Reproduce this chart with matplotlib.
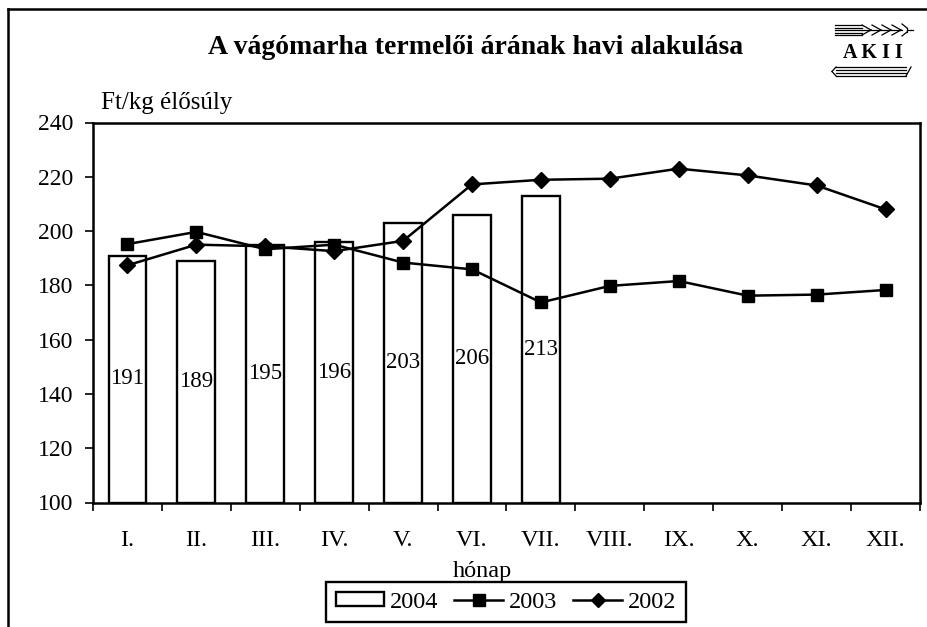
import matplotlib
matplotlib.use("Agg")
import matplotlib.pyplot as plt
import numpy as np
from matplotlib.lines import Line2D
from matplotlib.patches import Rectangle

plt.rcParams['font.family'] = ['Liberation Serif', 'DejaVu Serif']

months = ["I.", "II.", "III.", "IV.", "V.", "VI.", "VII.", "VIII.", "IX.", "X.", "XI.", "XII."]
vals_2004 = [191, 189, 195, 196, 203, 206, 213]
vals_2003 = [195.2, 199.7, 193.3, 195.0, 188.4, 185.9, 173.7, 179.8, 181.6, 176.2, 176.6, 178.3]
vals_2002 = [187.4, 195.0, 194.4, 192.6, 196.4, 217.2, 218.9, 219.3, 223.0, 220.5, 216.8, 208.0]
yticks = [100, 120, 140, 160, 180, 200, 220, 240]

W, H = 927, 627
fig = plt.figure(figsize=(W / 100, H / 100), dpi=100)
ax = fig.add_axes([93 / W, 1 - 502.5 / H, (920 - 93) / W, (502.5 - 122.5) / H])

x = np.arange(len(months))
x04 = np.arange(len(vals_2004))
bars = ax.bar(x04, [v - 100 for v in vals_2004], bottom=100, width=0.55,
              facecolor='white', edgecolor='black', linewidth=1.7, zorder=2)
for xi, v in zip(x04, vals_2004):
    ax.text(xi, (100 + v) / 2, f"{v}", ha='center', va='center', fontsize=16.5, zorder=3)

ax.plot(x, vals_2003, color='black', lw=1.8, marker='s', ms=9, zorder=4)
ax.plot(x, vals_2002, color='black', lw=1.8, marker='D', ms=8, zorder=4)

ax.set_xlim(-0.5, len(months) - 0.5)
ax.set_ylim(100, 240)
ax.set_yticks(yticks)
ax.set_yticklabels([str(t) for t in yticks], fontsize=17)
ax.tick_params(axis='y', direction='out', length=6, width=1.2, pad=8)

ax.set_xticks(np.arange(-0.5, len(months) + 0.5, 1))
ax.set_xticklabels([])
ax.set_xticks(x, minor=True)
ax.set_xticklabels(months, minor=True, fontsize=17.5)
ax.tick_params(axis='x', which='major', direction='out', length=6, width=1.2)
ax.tick_params(axis='x', which='minor', length=0, pad=20)

for s in ax.spines.values():
    s.set_linewidth(1.8)

fig.text(101 / W, 1 - 103 / H, "Ft/kg élősúly", ha='left', va='center', fontsize=18)
fig.text(476 / W, 1 - 47 / H, "A vágómarha termelői árának havi alakulása",
         ha='center', va='center', fontsize=20, fontweight='bold')
fig.text(482 / W, 1 - 571 / H, "hónap", ha='center', va='center', fontsize=17.5)

handles = [Rectangle((0, 0), 1, 1, facecolor='white', edgecolor='black', linewidth=1.7),
           Line2D([], [], color='black', lw=1.8, marker='s', ms=8),
           Line2D([], [], color='black', lw=1.8, marker='D', ms=7)]
leg = fig.legend(handles, ["2004", "2003", "2002"], loc='center',
                 bbox_to_anchor=(506 / W, 1 - 602 / H), ncol=3, fontsize=17.5,
                 frameon=True, fancybox=False, edgecolor='black', framealpha=1,
                 handlelength=2.0, handletextpad=0.25, columnspacing=0.65,
                 borderpad=0.4, borderaxespad=0, handleheight=0.55)
leg.get_frame().set_linewidth(1.7)

# outer frame
fig.add_artist(Line2D([8 / W, 8 / W], [0, 1 - 9 / H], color='black', lw=1.8,
                      transform=fig.transFigure))
fig.add_artist(Line2D([8 / W, 1.0], [1 - 9 / H, 1 - 9 / H], color='black', lw=1.8,
                      transform=fig.transFigure))

# AKII logo
def fl(x0, x1, y0, y1, lw=0.9):
    fig.add_artist(Line2D([x0 / W, x1 / W], [1 - y0 / H, 1 - y1 / H], color='black',
                          lw=lw, transform=fig.transFigure))

for yy in [25, 27.5, 30, 32.5, 35]:
    fl(835, 862, yy, yy)
for xx in [862, 872, 882, 892]:
    fl(xx, xx + 9, 25, 30)
    fl(xx, xx + 9, 35, 30)
fl(862, 902, 30, 30)
fl(902, 907, 24, 28)
fl(907, 907, 28, 32)
fl(907, 902, 32, 36)
fl(907, 913, 30, 30)
fig.text(873 / W, 1 - 53 / H, "A K I I", ha='center', va='center', fontsize=14.5,
         fontweight='bold')
for yy in [67, 70, 73, 76]:
    fl(836, 906, yy, yy)
fl(836, 832, 67, 71.5)
fl(832, 836, 71.5, 76)
fl(906, 911, 76, 67)

fig.savefig("out.png", dpi=100)
